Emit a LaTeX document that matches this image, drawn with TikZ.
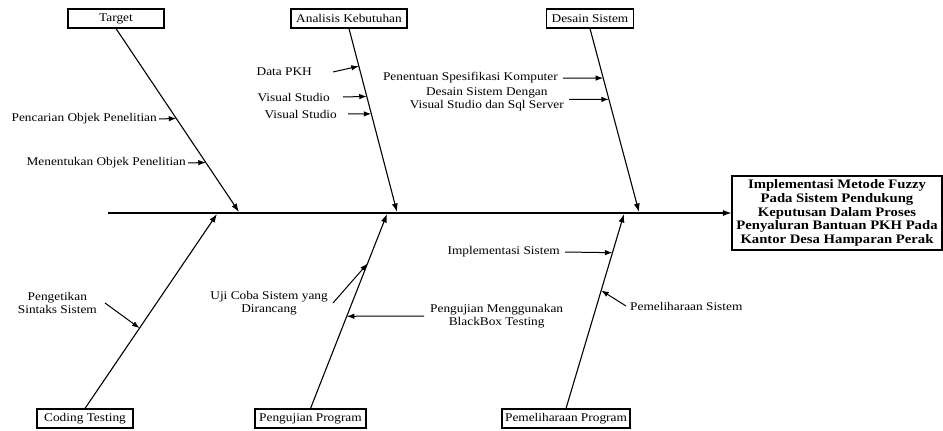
\documentclass[tikz,border=0pt]{standalone}
\usepackage{fontspec}
\setmainfont[FakeStretch=1.13]{Liberation Serif}
\usetikzlibrary{arrows.meta,calc}

\begin{document}
\begin{tikzpicture}[x=1pt, y=-1pt,
      cause/.style={draw, line width=1.1pt, minimum height=19pt, inner sep=1pt,
                    font=\fontsize{11.8}{13}\selectfont},
      lbl/.style={inner sep=2pt, align=center, font=\fontsize{11.8}{13}\selectfont},
      bone/.style={line width=1.1pt, -{Latex[length=8.5pt,width=6pt]}},
      sub/.style={line width=1pt, -{Latex[length=7.5pt,width=5.5pt]}}]
      \useasboundingbox (0,0) rectangle (943,431);

      % Effect (head of the fish)
      \node[draw, line width=1.1pt, minimum width=210pt, minimum height=74pt,
            align=center, font=\fontsize{13}{13.8}\selectfont\bfseries]
        (effect) at (837,213) {Implementasi Metode Fuzzy\\Pada Sistem Pendukung\\
        Keputusan Dalam Proses\\Penyaluran Bantuan PKH Pada\\Kantor Desa Hamparan Perak};

      % Spine
      \coordinate (tail) at (108,213);
      \draw[bone] (tail) -- (effect.west);

      % Main causes, top row
      \node[cause, minimum width=96pt]  (target)   at (116,18.5) {Target};
      \node[cause, minimum width=116pt] (analisis) at (349,18.5) {Analisis Kebutuhan};
      \node[cause, minimum width=87pt]  (desain)   at (590,18.5) {Desain Sistem};
      % Main causes, bottom row
      \node[cause, minimum width=96pt]  (coding)       at (85,418.5)  {Coding Testing};
      \node[cause, minimum width=111pt] (pengujian)    at (310.5,418.5) {Pengujian Program};
      \node[cause, minimum width=128pt] (pemeliharaan) at (566,418.5) {Pemeliharaan Program};

      % Where the bones meet the spine
      \coordinate (eTarget)       at (239,212);
      \coordinate (eAnalisis)     at (397,212);
      \coordinate (eDesain)       at (639,212);
      \coordinate (eCoding)       at (217,214);
      \coordinate (ePengujian)    at (387,214);
      \coordinate (ePemeliharaan) at (624,214);

      % Bones
      \draw[bone] (target.south)       -- (eTarget);
      \draw[bone] (analisis.south)     -- (eAnalisis);
      \draw[bone] (desain.south)       -- (eDesain);
      \draw[bone] (coding.north)       -- (eCoding);
      \draw[bone] (pengujian.north)    -- (ePengujian);
      \draw[bone] (pemeliharaan.north) -- (ePemeliharaan);

      % Sub causes: Target
      \node[lbl, anchor=east] (pencarian) at (159,119) {Pencarian Objek Penelitian};
      \draw[sub] (pencarian.east) -- ($(target.south)!0.49!(eTarget)$);
      \node[lbl, anchor=east] (menentukan) at (188,163) {Menentukan Objek Penelitian};
      \draw[sub] (menentukan.east) -- ($(target.south)!0.73!(eTarget)$);

      % Sub causes: Analisis Kebutuhan
      \node[lbl, anchor=east] (dataPKH) at (314,72) {Data PKH};
      \draw[sub] ([xshift=19pt]dataPKH.east) -- ($(analisis.south)!0.205!(eAnalisis)$);
      \node[lbl, anchor=east] (vstudioA) at (332,97) {Visual Studio};
      \draw[sub] ([xshift=11pt]vstudioA.east) -- ($(analisis.south)!0.37!(eAnalisis)$);
      \node[lbl, anchor=east] (vstudioB) at (339,114) {Visual Studio};
      \draw[sub] ([xshift=9pt]vstudioB.east) -- ($(analisis.south)!0.465!(eAnalisis)$);

      % Sub causes: Desain Sistem
      \node[lbl, anchor=east] (spesifikasi) at (560,78) {Penentuan Spesifikasi Komputer};
      \draw[sub] ([xshift=3pt]spesifikasi.east) -- ($(desain.south)!0.27!(eDesain)$);
      \node[lbl, anchor=east] (desainSql) at (566,99.5)
        {Desain Sistem Dengan\\Visual Studio dan Sql Server};
      \draw[sub] ([xshift=3pt]desainSql.east) -- ($(desain.south)!0.386!(eDesain)$);

      % Sub causes: Coding Testing
      \node[lbl, anchor=east] (sintaks) at (99,303) {Pengetikan\\Sintaks Sistem};
      \draw[sub] ([xshift=6pt]sintaks.east) -- ($(coding.north)!0.413!(eCoding)$);

      % Sub causes: Pengujian Program
      \node[lbl, anchor=east] (ujiCoba) at (330,303) {Uji Coba Sistem yang\\Dirancang};
      \draw[sub] ([xshift=3pt]ujiCoba.east) -- ($(pengujian.north)!0.745!(ePengujian)$);
      \node[lbl, anchor=west] (blackbox) at (428,316) {Pengujian Menggunakan\\BlackBox Testing};
      \draw[sub] ([xshift=-4pt]blackbox.west) -- ($(pengujian.north)!0.474!(ePengujian)$);

      % Sub causes: Pemeliharaan Program
      \node[lbl, anchor=east] (implSistem) at (562,252) {Implementasi Sistem};
      \draw[sub] ([xshift=3pt]implSistem.east) -- ($(pemeliharaan.north)!0.801!(ePemeliharaan)$);
      \node[lbl, anchor=west] (pmlSistem) at (628,306) {Pemeliharaan Sistem};
      \draw[sub] ([xshift=-2pt]pmlSistem.west) -- ($(pemeliharaan.north)!0.607!(ePemeliharaan)$);
    \end{tikzpicture}
\end{document}
